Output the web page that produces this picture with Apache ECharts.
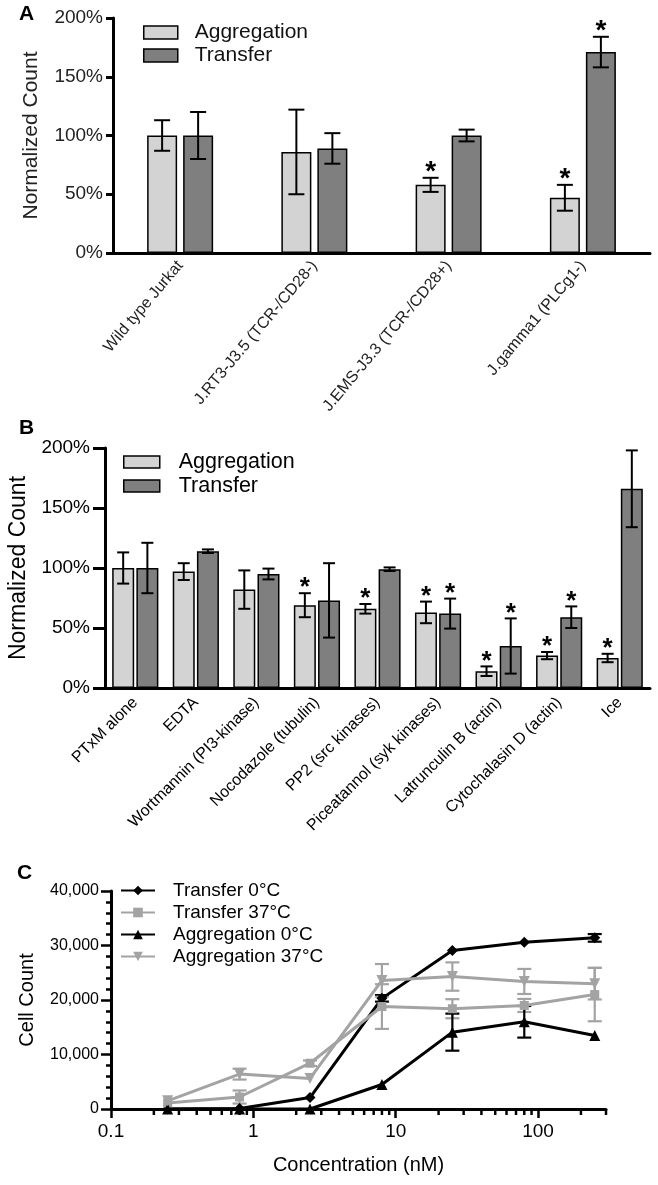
<!DOCTYPE html>
<html>
<head>
<meta charset="utf-8">
<script src="https://cdn.jsdelivr.net/npm/echarts@6/dist/echarts.min.js"></script>
<style>
  html, body { margin: 0; padding: 0; background: #fff; }
  #chart { width: 658px; height: 1185px; }
</style>
</head>
<body>
<div id="chart"></div>
<script>
// ---------- Panel A data ----------
const catA = ['Wild type Jurkat', 'J.RT3-J3.5 (TCR-/CD28-)', 'J.EMS-J3.3 (TCR-/CD28+)', 'J.gamma1 (PLCg1-)'];
const aggA = [100, 86, 58, 47];
const aggAErr = [13, 36, 6, 11];
const aggASig = [0, 0, 1, 1];
const trA = [100, 89, 100, 171];
const trAErr = [20, 13, 5, 13];
const trASig = [0, 0, 0, 1];

// ---------- Panel B data ----------
const catB = ['PTxM alone', 'EDTA', 'Wortmannin (PI3-kinase)', 'Nocodazole (tubulin)', 'PP2 (src kinases)',
  'Piceatannol (syk kinases)', 'Latrunculin B (actin)', 'Cytochalasin D (actin)', 'Ice'];
const aggB = [100, 97, 82, 69, 66, 63, 14, 27, 25];
const aggBErr = [13, 7, 16, 10, 4, 9, 4, 3, 3.5];
const aggBSig = [0, 0, 0, 1, 1, 1, 1, 1, 1];
const trB = [100, 114, 95, 73, 99, 62, 35, 59, 166];
const trBErr = [21, 1.5, 4.5, 31, 1.5, 12.5, 23, 9, 32];
const trBSig = [0, 0, 0, 0, 0, 1, 1, 1, 0];

const pctTicks = [0, 50, 100, 150, 200];

// ---------- Panel C data ----------
const concC = [0.25, 0.8, 2.5, 8, 25, 80, 250];
const tr0 = [0, 100, 2100, 20300, 29100, 30600, 31400];
const tr0Err = [0, 0, 0, 600, 0, 0, 700];
const tr37 = [1100, 2200, 8400, 18800, 18400, 19000, 21000];
const tr37Err = [0, 1200, 500, 4100, 1750, 1200, 4900];
const agg0 = [0, 0, 0, 4500, 14100, 16000, 13500];
const agg0Err = [0, 0, 0, 0, 3400, 2900, 0];
const agg37 = [1500, 6400, 5600, 23600, 24300, 23400, 23000];
const agg37Err = [0, 1000, 0, 3000, 2600, 2300, 2900];
const xMajorC = [0.1, 1, 10, 100];
const xMinorC = [0.2, 0.3, 0.4, 0.5, 0.6, 0.7, 0.8, 0.9, 2, 3, 4, 5, 6, 7, 8, 9, 20, 30, 40, 50, 60, 70, 80, 90, 200, 300];

// ---------- styles ----------
const FONT = "'Liberation Sans', Arial, Helvetica, sans-serif";
const LIGHT = '#d3d3d3', DARK = '#7f7f7f';
const BLACK = '#000', GRAY = '#a3a3a3';

function barErr(offset, capHalf, starSize, starGap) {
  return function (params, api) {
    const i = api.value(0), v = api.value(1), e = api.value(2), s = api.value(3);
    const top = api.coord([i, v + e]);
    const bot = api.coord([i, v - e]);
    const x = top[0] + offset;
    const ch = [];
    const st = { stroke: '#000', lineWidth: 2 };
    if (e > 0) {
      ch.push({ type: 'line', shape: { x1: x, y1: top[1], x2: x, y2: bot[1] }, style: st });
      ch.push({ type: 'line', shape: { x1: x - capHalf, y1: top[1], x2: x + capHalf, y2: top[1] }, style: st });
      ch.push({ type: 'line', shape: { x1: x - capHalf, y1: bot[1], x2: x + capHalf, y2: bot[1] }, style: st });
    }
    if (s) {
      ch.push({ type: 'text', style: { text: '*', x: x, y: top[1] - starGap, align: 'center', verticalAlign: 'middle',
        fontSize: starSize, fontWeight: 'bold', fontFamily: FONT, fill: '#000' } });
    }
    return { type: 'group', children: ch };
  };
}

function lineErr(color) {
  return function (params, api) {
    const x = api.value(0), v = api.value(1), e = api.value(2);
    if (!(e > 0)) return null;
    const top = api.coord([x, v + e]);
    const bot = api.coord([x, v - e]);
    const st = { stroke: color, lineWidth: 2.2 };
    const c = 7;
    return { type: 'group', children: [
      { type: 'line', shape: { x1: top[0], y1: top[1], x2: bot[0], y2: bot[1] }, style: st },
      { type: 'line', shape: { x1: top[0] - c, y1: top[1], x2: top[0] + c, y2: top[1] }, style: st },
      { type: 'line', shape: { x1: bot[0] - c, y1: bot[1], x2: bot[0] + c, y2: bot[1] }, style: st }
    ] };
  };
}

const axisLineStyle = { color: '#000', width: 3 };

const chart = echarts.init(document.getElementById('chart'), null, { renderer: 'canvas' });

const option = {
  animation: false,
  backgroundColor: '#fff',
  textStyle: { fontFamily: FONT, color: '#000' },
  title: [
    { text: 'A', left: 19, top: 4, padding: 0, textStyle: { fontSize: 21, fontWeight: 'bold', fontFamily: FONT, color: '#000' } },
    { text: 'B', left: 19, top: 418, padding: 0, textStyle: { fontSize: 21, fontWeight: 'bold', fontFamily: FONT, color: '#000' } },
    { text: 'C', left: 17, top: 863, padding: 0, textStyle: { fontSize: 21, fontWeight: 'bold', fontFamily: FONT, color: '#000' } }
  ],
  legend: [
    { data: ['Aggregation', 'Transfer'], orient: 'vertical', left: 143, top: 22, padding: 0, itemGap: 2,
      itemWidth: 34, itemHeight: 13, selectedMode: false, icon: 'rect',
      itemStyle: { borderColor: '#000', borderWidth: 1.5 },
      textStyle: { fontSize: 21, fontFamily: FONT, color: '#111', padding: [0, 0, 0, 12] } },
    { data: ['Aggregation', 'Transfer'], orient: 'vertical', left: 123, top: 451, padding: 0, itemGap: 2,
      itemWidth: 36, itemHeight: 12, selectedMode: false, icon: 'rect',
      itemStyle: { borderColor: '#000', borderWidth: 1.5 },
      textStyle: { fontSize: 21.5, fontFamily: FONT, color: '#000', padding: [0, 0, 0, 14] } },
    { data: ['Transfer 0°C', 'Transfer 37°C', 'Aggregation 0°C', 'Aggregation 37°C'], orient: 'vertical',
      left: 120, top: 881, padding: 0, itemGap: 3, itemWidth: 34, itemHeight: 12, selectedMode: false,
      textStyle: { fontSize: 19, fontFamily: FONT, color: '#000', padding: [0, 0, 0, 13] } }
  ],
  grid: [
    { left: 113, right: 8, top: 18, bottom: 932, outerBoundsMode: 'none', containLabel: false },
    { left: 105, right: 8, top: 448, bottom: 497, outerBoundsMode: 'none', containLabel: false },
    { left: 111, right: 52, top: 891, bottom: 76, outerBoundsMode: 'none', containLabel: false }
  ],
  xAxis: [
    { gridIndex: 0, type: 'category', data: catA,
      axisLine: { lineStyle: axisLineStyle },
      axisTick: { alignWithLabel: true, length: 8, lineStyle: { width: 3, color: '#000' } },
      axisLabel: { rotate: 50, interval: 0, fontSize: 16, color: '#222', margin: 10, fontFamily: FONT } },
    { gridIndex: 1, type: 'category', data: catB,
      axisLine: { lineStyle: axisLineStyle },
      axisTick: { alignWithLabel: true, length: 10, lineStyle: { width: 3, color: '#000' } },
      axisLabel: { rotate: 45, interval: 0, fontSize: 16, color: '#000', margin: 12, fontFamily: FONT } },
    { gridIndex: 2, type: 'log', logBase: 10, min: 0.1, max: 300,
      axisLine: { lineStyle: axisLineStyle },
      axisTick: { length: 9, lineStyle: { width: 2.5, color: '#000' } },
      axisLabel: { fontSize: 19, color: '#000', margin: 13, fontFamily: FONT, showMaxLabel: false,
        formatter: function (v) { return xMajorC.indexOf(+(+v).toPrecision(6)) >= 0 ? String(+(+v).toPrecision(6)) : ''; } },
      splitLine: { show: false },
      name: 'Concentration (nM)', nameLocation: 'middle', nameGap: 46,
      nameTextStyle: { fontSize: 20, color: '#000', fontFamily: FONT } }
  ],
  yAxis: [
    { gridIndex: 0, type: 'value', min: pctTicks[0], max: pctTicks[pctTicks.length - 1], interval: 50,
      axisLine: { show: true, lineStyle: axisLineStyle },
      axisTick: { show: true, length: 7, lineStyle: { width: 3, color: '#000' } },
      axisLabel: { formatter: '{value}%', fontSize: 19, color: '#222', margin: 10, fontFamily: FONT },
      splitLine: { show: false },
      name: 'Normalized Count', nameLocation: 'middle', nameGap: 71,
      nameTextStyle: { fontSize: 21, color: '#222', fontFamily: FONT } },
    { gridIndex: 1, type: 'value', min: pctTicks[0], max: pctTicks[pctTicks.length - 1], interval: 50,
      axisLine: { show: true, lineStyle: axisLineStyle },
      axisTick: { show: true, length: 12, lineStyle: { width: 3, color: '#000' } },
      axisLabel: { formatter: '{value}%', fontSize: 19, color: '#000', margin: 15, fontFamily: FONT },
      splitLine: { show: false },
      name: 'Normalized Count', nameLocation: 'middle', nameGap: 68,
      nameTextStyle: { fontSize: 23, color: '#000', fontFamily: FONT } },
    { gridIndex: 2, type: 'value', min: 0, max: 40000, interval: 10000,
      axisLine: { show: true, lineStyle: axisLineStyle },
      axisTick: { show: true, length: 10, lineStyle: { width: 2.5, color: '#000' } },
      minorTick: { show: true, splitNumber: 5, length: 5, lineStyle: { width: 2.5, color: '#000' } },
      axisLabel: { fontSize: 16, color: '#000', margin: 12, fontFamily: FONT,
        formatter: function (v) { return Number(v).toLocaleString('en-US'); } },
      splitLine: { show: false },
      name: 'Cell Count', nameLocation: 'middle', nameGap: 74,
      nameTextStyle: { fontSize: 20, color: '#000', fontFamily: FONT } }
  ],
  series: [
    // Panel A bars
    { type: 'bar', name: 'Aggregation', xAxisIndex: 0, yAxisIndex: 0, data: aggA, barWidth: 30, barGap: '20%',
      itemStyle: { color: LIGHT, borderColor: '#000', borderWidth: 1.5 } },
    { type: 'bar', name: 'Transfer', xAxisIndex: 0, yAxisIndex: 0, data: trA, barWidth: 30, barGap: '20%',
      itemStyle: { color: DARK, borderColor: '#000', borderWidth: 1.5 } },
    { type: 'custom', xAxisIndex: 0, yAxisIndex: 0, z: 5, silent: true,
      data: aggA.map((v, i) => [i, v, aggAErr[i], aggASig[i]]), encode: { x: 0, y: 1 },
      renderItem: barErr(-18, 8, 28, 6) },
    { type: 'custom', xAxisIndex: 0, yAxisIndex: 0, z: 5, silent: true,
      data: trA.map((v, i) => [i, v, trAErr[i], trASig[i]]), encode: { x: 0, y: 1 },
      renderItem: barErr(18, 8, 28, 6) },
    // Panel B bars
    { type: 'bar', name: 'Aggregation', xAxisIndex: 1, yAxisIndex: 1, data: aggB, barWidth: 22, barGap: '10%',
      itemStyle: { color: LIGHT, borderColor: '#000', borderWidth: 1.5 } },
    { type: 'bar', name: 'Transfer', xAxisIndex: 1, yAxisIndex: 1, data: trB, barWidth: 22, barGap: '10%',
      itemStyle: { color: DARK, borderColor: '#000', borderWidth: 1.5 } },
    { type: 'custom', xAxisIndex: 1, yAxisIndex: 1, z: 5, silent: true,
      data: aggB.map((v, i) => [i, v, aggBErr[i], aggBSig[i]]), encode: { x: 0, y: 1 },
      renderItem: barErr(-12.1, 6, 26, 5) },
    { type: 'custom', xAxisIndex: 1, yAxisIndex: 1, z: 5, silent: true,
      data: trB.map((v, i) => [i, v, trBErr[i], trBSig[i]]), encode: { x: 0, y: 1 },
      renderItem: barErr(12.1, 6, 26, 5) },
    // Panel C lines
    { type: 'line', name: 'Transfer 0°C', xAxisIndex: 2, yAxisIndex: 2, clip: false,
      data: concC.map((x, i) => [x, tr0[i]]), symbol: 'diamond', symbolSize: 11,
      lineStyle: { color: BLACK, width: 3 }, itemStyle: { color: BLACK } },
    { type: 'line', name: 'Transfer 37°C', xAxisIndex: 2, yAxisIndex: 2, clip: false,
      data: concC.map((x, i) => [x, tr37[i]]), symbol: 'rect', symbolSize: 9,
      lineStyle: { color: GRAY, width: 3 }, itemStyle: { color: GRAY } },
    { type: 'line', name: 'Aggregation 0°C', xAxisIndex: 2, yAxisIndex: 2, clip: false,
      data: concC.map((x, i) => [x, agg0[i]]), symbol: 'triangle', symbolSize: 11,
      lineStyle: { color: BLACK, width: 3 }, itemStyle: { color: BLACK } },
    { type: 'line', name: 'Aggregation 37°C', xAxisIndex: 2, yAxisIndex: 2, clip: false,
      data: concC.map((x, i) => [x, agg37[i]]), symbol: 'triangle', symbolRotate: 180, symbolSize: 11,
      lineStyle: { color: GRAY, width: 3 }, itemStyle: { color: GRAY } },
    // Panel C error bars
    { type: 'custom', xAxisIndex: 2, yAxisIndex: 2, silent: true, z: 3,
      data: concC.map((x, i) => [x, tr0[i], tr0Err[i]]), encode: { x: 0, y: 1 }, renderItem: lineErr(BLACK) },
    { type: 'custom', xAxisIndex: 2, yAxisIndex: 2, silent: true, z: 3,
      data: concC.map((x, i) => [x, tr37[i], tr37Err[i]]), encode: { x: 0, y: 1 }, renderItem: lineErr(GRAY) },
    { type: 'custom', xAxisIndex: 2, yAxisIndex: 2, silent: true, z: 3,
      data: concC.map((x, i) => [x, agg0[i], agg0Err[i]]), encode: { x: 0, y: 1 }, renderItem: lineErr(BLACK) },
    { type: 'custom', xAxisIndex: 2, yAxisIndex: 2, silent: true, z: 3,
      data: concC.map((x, i) => [x, agg37[i], agg37Err[i]]), encode: { x: 0, y: 1 }, renderItem: lineErr(GRAY) },
    // Panel C log minor ticks
    { type: 'custom', xAxisIndex: 2, yAxisIndex: 2, silent: true, z: 3,
      data: xMinorC.map(v => [v, 0]), encode: { x: 0, y: 1 },
      renderItem: function (params, api) {
        const c = api.coord([api.value(0), 0]);
        return { type: 'line', shape: { x1: c[0], y1: c[1], x2: c[0], y2: c[1] + 6 },
          style: { stroke: '#000', lineWidth: 2.5 } };
      } }
  ]
};

chart.setOption(option);
</script>
</body>
</html>
